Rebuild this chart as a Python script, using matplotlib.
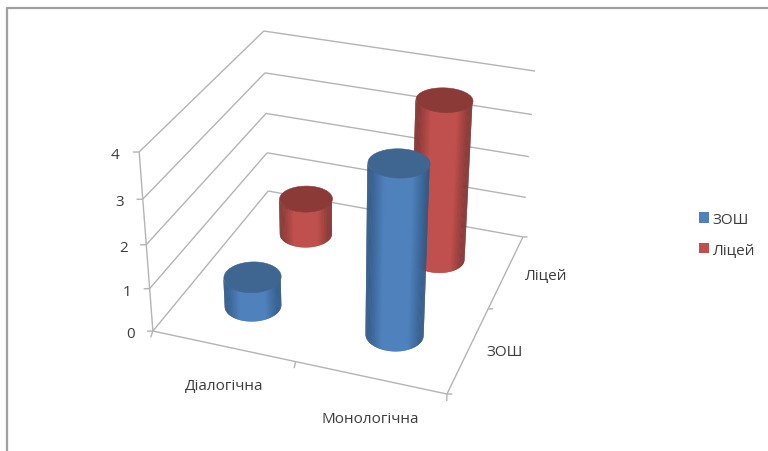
import numpy as np
import matplotlib
matplotlib.use('Agg')
import matplotlib.pyplot as plt
from matplotlib.colors import to_rgb
from matplotlib.lines import Line2D
from matplotlib.patches import Patch
from matplotlib.text import Text
from mpl_toolkits.mplot3d.art3d import Poly3DCollection, Line3DCollection

categories = ['Діалогічна', 'Монологічна']
series_names = ['ЗОШ', 'Ліцей']
zosh_values = [0.7, 3.85]
lyceum_values = [0.9, 3.78]
z_ticks = [0, 1, 2, 3, 4]

W, H = 768, 452
BLUE = ('#4f81bd', '#305682', '#3f6591')
RED = ('#c0504d', '#7c3331', '#8c3a37')
GRID = '#b4b4b4'
TEXT = '#3c3c3c'
RADIUS = 0.19

plt.rcParams['font.family'] = ['Open Sans', 'DejaVu Sans']

fig = plt.figure(figsize=(W / 100, H / 100), dpi=100)
# 3d axes are always square, so make it as wide as the figure and let it overflow
ax = fig.add_axes([0, -(W - H) / 2 / H, 1, W / H], projection='3d', computed_zorder=False)
ax.set_axis_off()
ax.set_xticks([])
ax.set_yticks([])
ax.set_zticks([])
ax.apply_aspect()

# camera: box corners (x, y, z) and where they land on the canvas
box_corners = np.array([(0, 0, 0), (2, 0, 0), (2, 2, 0), (0, 2, 0),
                        (0, 0, 4), (0, 2, 4), (2, 2, 4)], float)
canvas_corners = np.array([(153, 332), (447, 395), (523, 238), (268, 192),
                           (139, 153), (264, 32), (535, 72)], float)
view_pts = ax.transData.inverted().transform(
    np.column_stack([canvas_corners[:, 0], H - canvas_corners[:, 1]]))

# scale up so the least squares solve is not dominated by tiny view units
rows = []
for (x, y, z), (u, v) in zip(box_corners, view_pts * 100):
    rows.append([x, y, z, 1, 0, 0, 0, 0, -u * x, -u * y, -u * z, -u])
    rows.append([0, 0, 0, 0, x, y, z, 1, -v * x, -v * y, -v * z, -v])
P = np.linalg.svd(np.array(rows))[2][-1].reshape(3, 4)
P[:2] /= 100
centre_w = P[2] @ np.array([1, 1, 1, 1])
if centre_w < 0:
    P = -P
    centre_w = -centre_w
M = np.vstack([P[0], P[1], P[2] - np.array([0, 0, 0, 0.5 * centre_w]), P[2]])
ax.get_proj = lambda: M


def to_view(pts):
    pts = np.column_stack([pts, np.ones(len(pts))])
    q = pts @ P.T
    return q[:, :2] / q[:, 2:]


def add_lines(segments, order=1):
    lines = Line3DCollection(segments, colors=GRID, linewidths=1)
    lines.set_zorder(order)
    ax.add_collection3d(lines)


def add_cylinder(x0, y0, value, colors, order):
    base, dark, top = colors
    t = np.linspace(0, 2 * np.pi, 181)[:-1]
    rim_x = x0 + RADIUS * np.cos(t)
    rim_y = y0 + RADIUS * np.sin(t)
    rim = to_view(np.column_stack([rim_x, rim_y, np.zeros_like(t)]))
    left = rim[:, 0].argmin()
    right = rim[:, 0].argmax()
    half = (rim[right, 0] - rim[left, 0]) / 2
    mid = (rim[right, 0] + rim[left, 0]) / 2
    base_rgb = np.array(to_rgb(base))
    dark_rgb = np.array(to_rgb(dark))
    # walk the near side of the rim only, from one silhouette edge to the other
    steps = (right - left) % len(t)
    if rim[(left + steps // 2) % len(t), 1] > rim[left, 1]:
        walk = [(left - k) % len(t) for k in range((left - right) % len(t) + 1)]
    else:
        walk = [(left + k) % len(t) for k in range(steps + 1)]
    # each strip overlaps the next one, a painter's order hides the seams
    for n in range(len(walk) - 1):
        i, j = walk[n], walk[min(n + 2, len(walk) - 1)]
        s = abs((rim[walk[n], 0] + rim[walk[n + 1], 0]) / 2 - mid) / half
        k = min(1, (1 - s) / 0.55)
        face = dark_rgb + (base_rgb - dark_rgb) * k
        strip = Poly3DCollection([[(rim_x[i], rim_y[i], 0), (rim_x[j], rim_y[j], 0),
                                   (rim_x[j], rim_y[j], value), (rim_x[i], rim_y[i], value)]],
                                 facecolors=[face], edgecolors='none', linewidths=0)
        strip.set_zorder(order + n * 0.001)
        ax.add_collection3d(strip)
    cap = Poly3DCollection([list(zip(rim_x, rim_y, np.full_like(t, value)))],
                           facecolors=top, edgecolors=top, linewidths=0.4)
    cap.set_zorder(order + 0.5)
    ax.add_collection3d(cap)


# walls and floor edges
segs = [[(0, 0, 0), (0, 0, 4)], [(0, 0, 0), (2, 0, 0)], [(2, 0, 0), (2, 2, 0)]]
for z in z_ticks:
    segs.append([(0, 0, z), (0, 2, z)])
    segs.append([(0, 2, z), (2, 2, z)])
    segs.append([(0, 0, z), (-0.035, -0.015, z)])
    ax.text(-0.122, -0.078, z, str(z), ha='center', va='center', fontsize=11, color=TEXT)
for i in range(3):
    segs.append([(i, 0, 0), (i + 0.018, -0.069, 0)])
    segs.append([(2, i, 0), (2.031, i + 0.012, 0)])
add_lines(segs)

# back row first so the front cylinders overlap it
add_cylinder(0.5, 1.5, lyceum_values[0], RED, 2)
add_cylinder(1.5, 1.5, lyceum_values[1], RED, 3)
add_cylinder(0.5, 0.5, zosh_values[0], BLUE, 4)
add_cylinder(1.5, 0.5, zosh_values[1], BLUE, 5)

ax.text(0.677, -0.385, 0, categories[0], ha='center', va='center', fontsize=11, color=TEXT)
ax.text(1.636, -0.392, 0, categories[1], ha='center', va='center', fontsize=11, color=TEXT)
ax.text(2.224, 0.563, 0, series_names[0], ha='center', va='center', fontsize=11, color=TEXT)
ax.text(2.275, 1.558, 0, series_names[1], ha='center', va='center', fontsize=11, color=TEXT)

# chart frame, only top and left edges show
fig.add_artist(Line2D([7 / W, 7 / W, 1], [0, 1 - 9 / H, 1 - 9 / H], color='#a0a0a0', lw=1.6))

handles = [Patch(facecolor=BLUE[0], label=series_names[0]), Patch(facecolor=RED[0], label=series_names[1])]
fig.legend(handles=handles, loc='center left', bbox_to_anchor=(685 / W, 1 - 235.5 / H), frameon=False,
           fontsize=11, labelcolor=TEXT, handlelength=0.65, handleheight=0.65, handletextpad=0.25,
           labelspacing=1.0)

# the empty title and axis label slots of the 3d axes are not needed
for t_obj in ax.findobj(Text):
    if not t_obj.get_text():
        t_obj.set_visible(False)

fig.savefig('out.png', dpi=100)
